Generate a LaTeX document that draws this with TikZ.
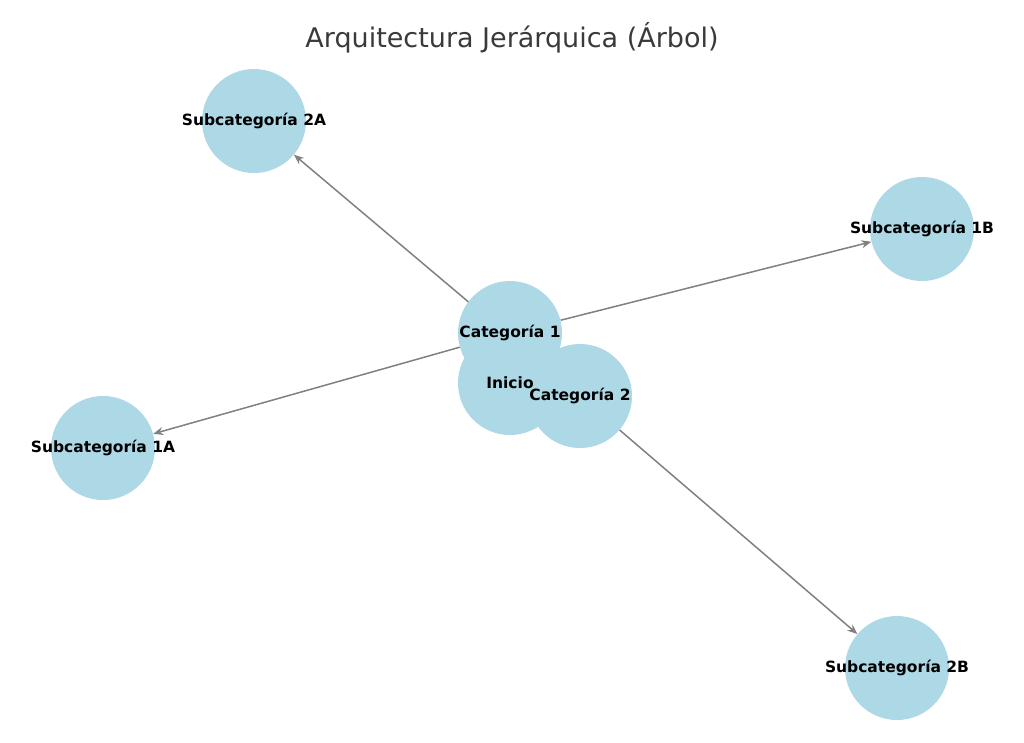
\documentclass[tikz,border=0pt]{standalone}
\usepackage{fontspec}
\setmainfont{DejaVu Sans}
\usetikzlibrary{arrows.meta,backgrounds}
\definecolor{lb}{HTML}{ADD8E6}
\definecolor{eg}{HTML}{808080}
\definecolor{tg}{HTML}{3A3A3A}
\tikzset{
  vert/.style={circle,fill=lb,minimum size=104pt,inner sep=0pt},
  lbl/.style={font=\bfseries\fontsize{15.5}{18}\selectfont,text=black,inner sep=0pt},
  edge/.style={draw=eg,line width=1.5pt,-{Stealth[length=10pt,width=8pt]}}
}
\begin{document}
\begin{tikzpicture}[x=1pt,y=-1pt]
\useasboundingbox (0,0) rectangle (1024,742);
\node[font=\fontsize{27}{32}\selectfont,text=tg] (title) at (512,38) {Arquitectura Jerárquica (Árbol)};
\node[vert] (s2a) at (254,121) {};
\node[vert] (s1) at (922,229) {};
\node[vert] (c1) at (510,333) {};
\node[vert] (ini) at (510,383) {};
\node[vert] (c2) at (580,396) {};
\node[vert] (s1a) at (103,448) {};
\node[vert] (s2b) at (897,668) {};
\begin{scope}[on background layer]
\draw[edge] (ini) -- (c1);
\draw[edge] (ini) -- (c2);
\draw[edge] (c1) -- (s1);
\draw[edge] (c1) -- (s1a);
\draw[edge] (c2) -- (s2a);
\draw[edge] (c2) -- (s2b);
\end{scope}
\node[lbl] (l2a) at (254,121) {Subcategoría 2A};
\node[lbl] (l1) at (922,229) {Subcategoría 1B};
\node[lbl] (lc1) at (510,333) {Categoría 1};
\node[lbl] (li) at (510,383) {Inicio};
\node[lbl] (lc2) at (580,396) {Categoría 2};
\node[lbl] (l1a) at (103,448) {Subcategoría 1A};
\node[lbl] (l2b) at (897,668) {Subcategoría 2B};
\end{tikzpicture}
\end{document}
